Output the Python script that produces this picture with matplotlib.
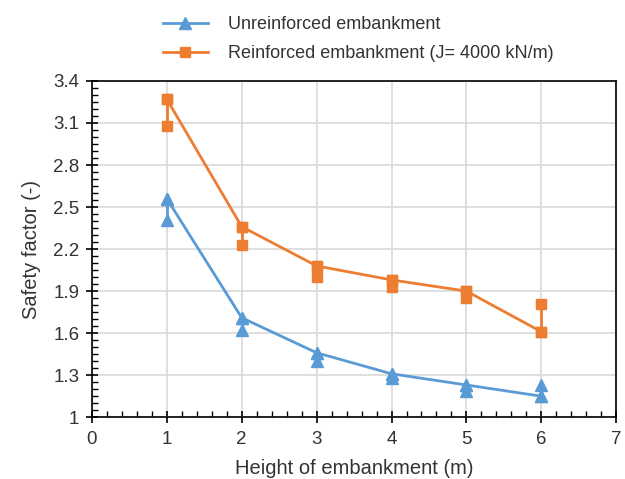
import matplotlib.pyplot as plt
from matplotlib.ticker import MultipleLocator

plt.rcParams['font.family'] = ['Liberation Sans', 'DejaVu Sans']

heights = [1, 2, 3, 4, 5, 6]
# two safety factor values per height; the line runs through the first one
unreinf_main = [2.56, 1.71, 1.46, 1.31, 1.23, 1.15]
unreinf_alt = [2.41, 1.62, 1.40, 1.28, 1.19, 1.23]
reinf_main = [3.27, 2.36, 2.08, 1.98, 1.90, 1.61]
reinf_alt = [3.08, 2.23, 2.00, 1.93, 1.85, 1.81]

blue = '#5B9BD5'
orange = '#ED7D31'
txt = '#333333'

fig = plt.figure(figsize=(6.25, 4.79), dpi=100)
ax = fig.add_axes([0.147, 0.129, 0.839, 0.702])


def draw(main, alt, color, marker, ms, label):
    ax.plot(heights, main, color=color, lw=2, marker=marker, ms=ms, label=label, zorder=3)
    for h, a, b in zip(heights, main, alt):
        ax.plot([h, h], [a, b], color=color, lw=2, marker=marker, ms=ms, zorder=3)


draw(unreinf_main, unreinf_alt, blue, '^', 8, 'Unreinforced embankment')
draw(reinf_main, reinf_alt, orange, 's', 7, 'Reinforced embankment (J= 4000 kN/m)')

ax.set_xlim(0, 7)
ax.set_ylim(1, 3.4)
ax.xaxis.set_major_locator(MultipleLocator(1))
ax.xaxis.set_minor_locator(MultipleLocator(0.2))
ax.yaxis.set_minor_locator(MultipleLocator(0.05))
ax.set_yticks([1, 1.3, 1.6, 1.9, 2.2, 2.5, 2.8, 3.1, 3.4])
ax.set_yticklabels(['1', '1.3', '1.6', '1.9', '2.2', '2.5', '2.8', '3.1', '3.4'])
ax.tick_params(which='major', direction='inout', length=8, width=1.2, labelsize=13.5,
               labelcolor=txt)
ax.tick_params(axis='x', which='major', pad=6)
ax.tick_params(axis='y', which='major', pad=5)
ax.tick_params(which='minor', direction='in', length=4, width=1)
ax.grid(True, which='major', color='#d9d9d9', lw=1.2)
ax.set_axisbelow(True)
for s in ax.spines.values():
    s.set_linewidth(1.2)

ax.set_xlabel('Height of embankment (m)', fontsize=14.5, color=txt, labelpad=8)
ax.set_ylabel('Safety factor (-)', fontsize=14.5, color=txt, labelpad=9)

leg = fig.legend(loc='upper left', bbox_to_anchor=(0.234, 1.0), frameon=False, fontsize=13,
                 handlelength=2.5, handletextpad=1.1, labelspacing=0.65)
for t in leg.get_texts():
    t.set_color(txt)

fig.savefig('out.png', dpi=100)
